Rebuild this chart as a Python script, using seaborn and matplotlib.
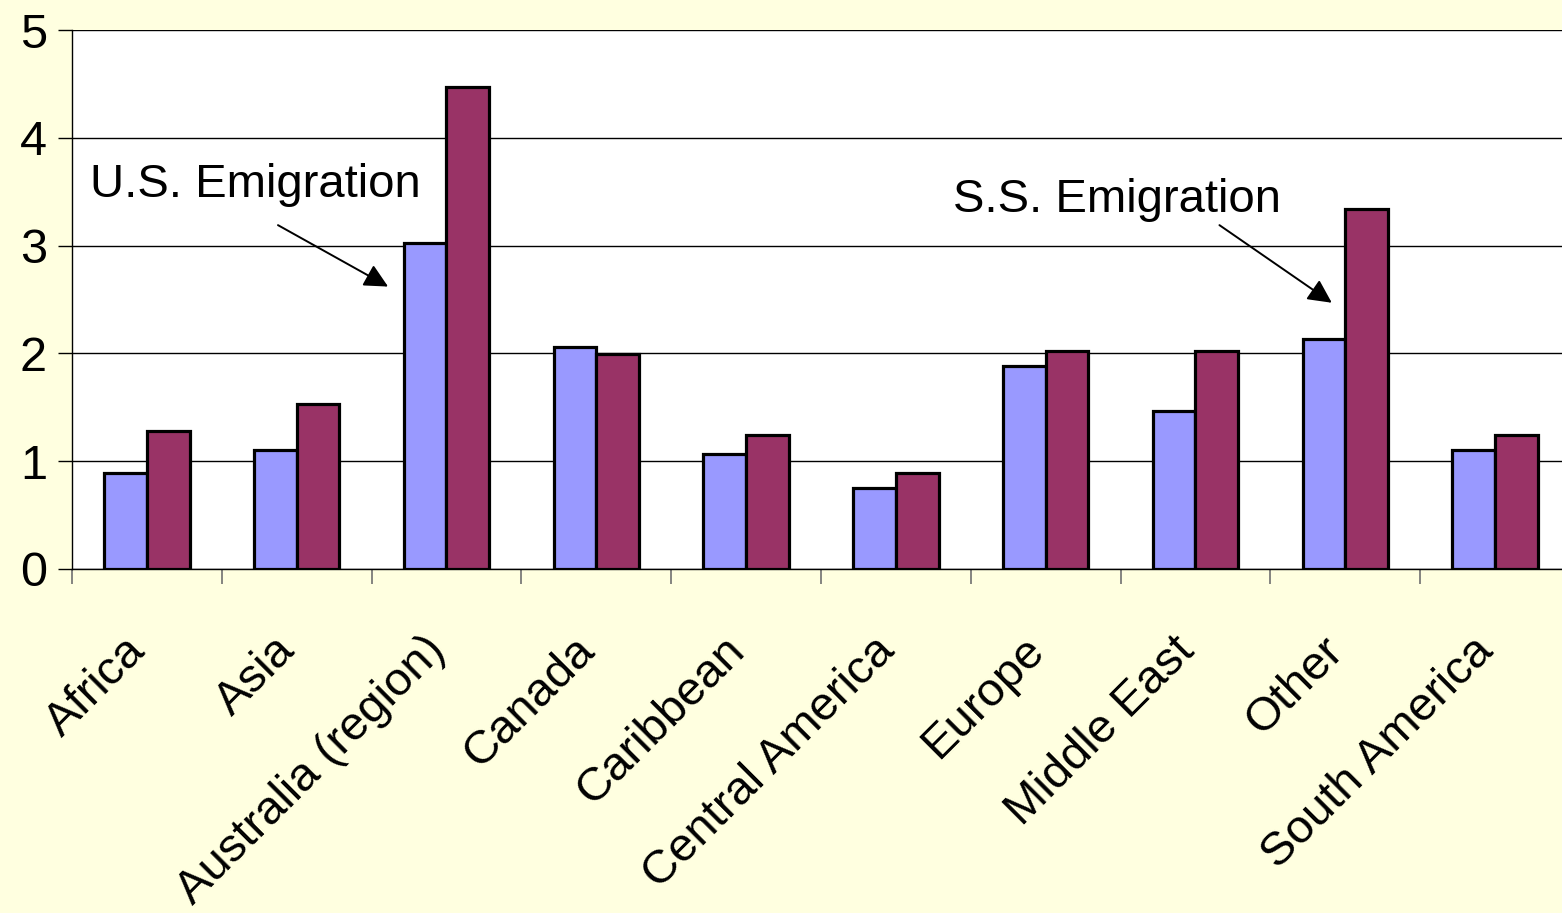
import matplotlib

matplotlib.use("Agg", force=True)
import matplotlib.pyplot as plt
from matplotlib.ticker import FixedLocator, NullFormatter
from matplotlib.transforms import ScaledTranslation
import pandas as pd
import seaborn as sns

REGIONS = [
    "Africa",
    "Asia",
    "Australia (region)",
    "Canada",
    "Caribbean",
    "Central America",
    "Europe",
    "Middle East",
    "Other",
    "South America",
]
US_EMIGRATION = [0.89, 1.10, 3.02, 2.06, 1.07, 0.75, 1.88, 1.47, 2.13, 1.10]
SS_EMIGRATION = [1.28, 1.53, 4.47, 1.99, 1.24, 0.89, 2.02, 2.02, 3.34, 1.24]
SERIES = ["U.S. Emigration", "S.S. Emigration"]
COLORS = ["#9999FF", "#993366"]


def build_frame() -> pd.DataFrame:
    rows = []
    for name, values in zip(SERIES, [US_EMIGRATION, SS_EMIGRATION]):
        for region, value in zip(REGIONS, values):
            rows.append({"region": region, "series": name, "value": value})
    return pd.DataFrame(rows)


def main() -> None:
    sns.set_theme(style="white")
    plt.rcParams["font.family"] = ["Liberation Sans", "DejaVu Sans"]
    plt.rcParams["text.color"] = "black"
    plt.rcParams["xtick.labelcolor"] = "black"
    plt.rcParams["ytick.labelcolor"] = "black"

    df = build_frame()
    fig = plt.figure(figsize=(15.62, 9.13), dpi=100, facecolor="#FFFFE0")
    ax = fig.add_axes([0.0461, 0.3768, 0.9590, 0.5903])
    ax.set_facecolor("white")

    sns.barplot(
        data=df, x="region", y="value", hue="series", order=REGIONS,
        hue_order=SERIES, palette=COLORS, width=0.57, edgecolor="black",
        linewidth=2.3, saturation=1, legend=False, ax=ax, zorder=3,
    )

    ax.set_xlim(-0.5, len(REGIONS) - 0.5)
    ax.set_ylim(0, 5)
    ax.set_yticks(range(0, 6))
    ax.yaxis.grid(True, color="black", linewidth=1.0, zorder=0)
    ax.set_axisbelow(True)
    ax.set_xlabel("")
    ax.set_ylabel("")

    for side in ["top", "right"]:
        ax.spines[side].set_visible(False)
    for side in ["left", "bottom"]:
        ax.spines[side].set_color("black")
        ax.spines[side].set_linewidth(1.0)

    ax.tick_params(axis="y", direction="out", length=10, width=1.0, color="black",
                   labelsize=35, pad=8, left=True, labelcolor="black")
    ax.tick_params(axis="x", which="major", length=0, labelsize=34, pad=54,
                   labelcolor="black")
    ax.xaxis.set_minor_locator(FixedLocator([i - 0.5 for i in range(len(REGIONS) + 1)]))
    ax.xaxis.set_minor_formatter(NullFormatter())
    ax.tick_params(axis="x", which="minor", direction="out", length=11, width=1.2,
                   color="#707070", bottom=True)
    shift = ScaledTranslation(-8 / 100, 0, fig.dpi_scale_trans)
    for label in ax.get_xticklabels():
        label.set_rotation(45)
        label.set_ha("right")
        label.set_va("center")
        label.set_rotation_mode("anchor")
        label.set_transform(label.get_transform() + shift)

    arrow = dict(arrowstyle="-|>", color="black", lw=1.4, mutation_scale=36,
                 shrinkA=0, shrinkB=0)
    ax.annotate("", xy=(1.61, 2.62), xytext=(0.875, 3.19), arrowprops=arrow, zorder=5)
    ax.annotate("", xy=(7.91, 2.47), xytext=(7.16, 3.19), arrowprops=arrow, zorder=5)
    ax.text(-0.38, 3.56, "U.S. Emigration", fontsize=34, va="center", ha="left")
    ax.text(5.38, 3.42, "S.S. Emigration", fontsize=34, va="center", ha="left")

    fig.savefig("out.png", dpi=100, facecolor=fig.get_facecolor())
    plt.close(fig)


if __name__ == "__main__":
    main()
